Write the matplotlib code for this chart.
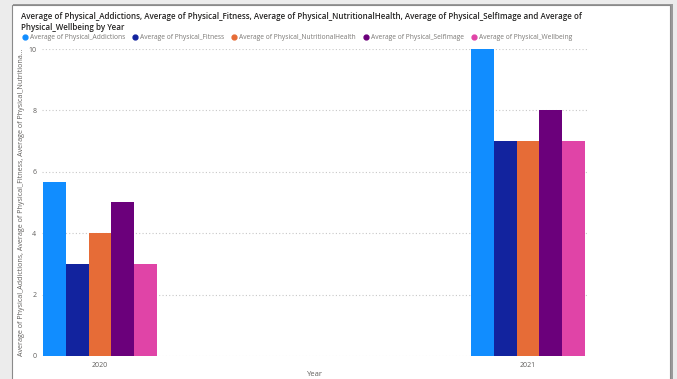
import matplotlib.pyplot as plt
from matplotlib.patches import Rectangle
from matplotlib.lines import Line2D
import numpy as np

years = ['2020', '2021']
series = ['Average of Physical_Addictions', 'Average of Physical_Fitness',
          'Average of Physical_NutritionalHealth', 'Average of Physical_SelfImage',
          'Average of Physical_Wellbeing']
addictions = [5.67, 10]
fitness = [3, 7]
nutritional = [4, 7]
selfimage = [5, 8]
wellbeing = [3, 7]
values = [addictions, fitness, nutritional, selfimage, wellbeing]
colors = ['#118DFF', '#12239E', '#E66C37', '#6B007B', '#E044A7']

plt.rcParams['font.family'] = ['Open Sans', 'DejaVu Sans']

fig = plt.figure(figsize=(6.77, 3.79), dpi=100, facecolor='#ececec')
# white report card with grey border / shadow
fig.patches.append(Rectangle((0.019, -0.01), 0.975, 1.0, transform=fig.transFigure,
                             facecolor='#9a9a9a', edgecolor='none', zorder=-3))
fig.patches.append(Rectangle((0.017, -0.005), 0.973, 0.993, transform=fig.transFigure,
                             facecolor='white', edgecolor='#8a8a8a', lw=0.8, zorder=-2))

ax = fig.add_axes([0.062, 0.0607, 0.805, 0.81])
ax.set_facecolor('none')

x = np.arange(len(years))
w = 0.053
for i, (vals, c) in enumerate(zip(values, colors)):
    ax.bar(x + (i - 2) * w, vals, width=w, color=c, zorder=3)

ax.set_xlim(-0.136, 1.138)
ax.set_ylim(0, 10)
ax.set_yticks([0, 2, 4, 6, 8, 10])
ax.set_xticks(x)
ax.set_xticklabels(years)
ax.grid(axis='y', color='#c8c8c8', linestyle=(0, (1, 2)), lw=0.8, zorder=0)
for s in ax.spines.values():
    s.set_visible(False)
ax.tick_params(length=0, labelsize=5, colors='#605E5C', pad=4)
ax.set_xlabel('Year', fontsize=5.5, color='#605E5C', labelpad=2)
ax.set_ylabel('Average of Physical_Addictions, Average of Physical_Fitness, Average of Physical_Nutritiona...',
              fontsize=5.1, color='#605E5C', labelpad=2.5)

fig.text(0.031, 0.968, 'Average of Physical_Addictions, Average of Physical_Fitness, Average of Physical_NutritionalHealth, Average of Physical_SelfImage and Average of\nPhysical_Wellbeing by Year',
         fontsize=5.75, color='#252423', fontweight='semibold', va='top', ha='left', linespacing=1.25)

handles = [Line2D([], [], marker='o', ls='none', color=c, markersize=3.5) for c in colors]
fig.legend(handles, series, loc='upper left', bbox_to_anchor=(0.027, 0.91), ncol=5,
           frameon=False, fontsize=4.8, handletextpad=-0.3, columnspacing=0.55,
           borderaxespad=0, borderpad=0, labelcolor='#7a7875')

fig.savefig('out.png', dpi=100, facecolor=fig.get_facecolor())
